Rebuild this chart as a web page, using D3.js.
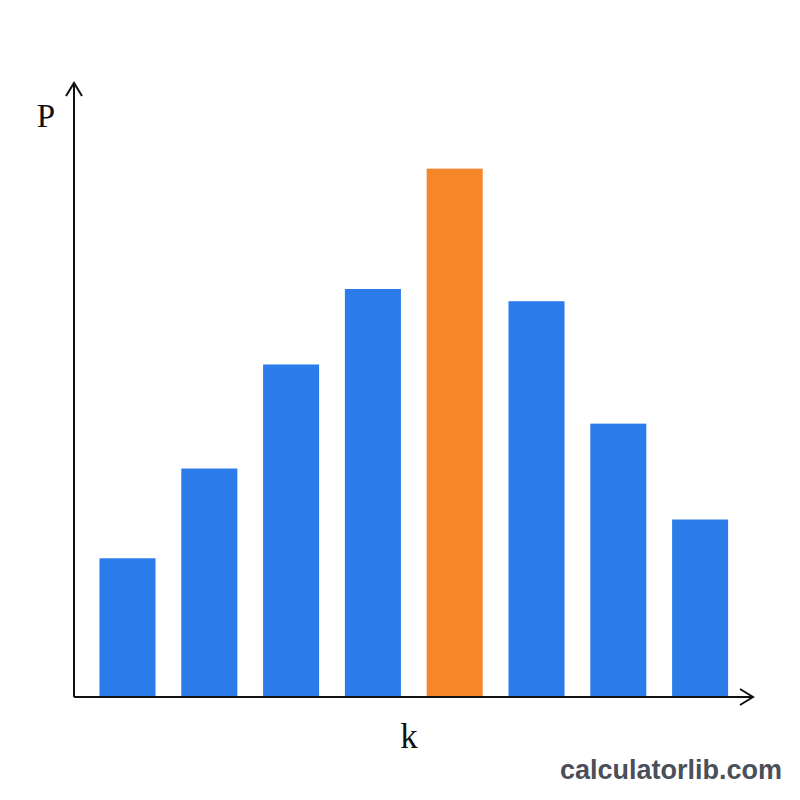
<!DOCTYPE html>
<html><head><meta charset="utf-8">
<script src="https://cdn.jsdelivr.net/npm/d3@7"></script>
<style>body{margin:0;background:#fff}</style>
</head><body>
<script>
const categories = ["1","2","3","4","5","6","7","8"];
const values = [0.068, 0.112, 0.163, 0.200, 0.259, 0.194, 0.134, 0.087];
const highlight = ["5"];
const xLabel = "k", yLabel = "P", watermark = "calculatorlib.com";

const W = 800, H = 800;
const svg = d3.select("body").append("svg").attr("width", W).attr("height", H);
svg.append("rect").attr("width", W).attr("height", H).attr("fill", "#fff");

const x = d3.scaleBand().domain(categories).range([86.6, 741]).paddingInner(0.315).paddingOuter(0.1575);
const y = d3.scaleLinear().domain([0, 0.3]).range([697, 85]);

svg.selectAll("rect.bar").data(categories).enter().append("rect")
  .attr("class","bar")
  .attr("x", d => x(d)).attr("width", x.bandwidth())
  .attr("y", (d,i) => y(values[i])).attr("height", (d,i) => y(0) - y(values[i]))
  .attr("fill", d => highlight.includes(d) ? "#f5862a" : "#2b7bea");

const ax = svg.append("g").attr("stroke", "#111").attr("stroke-width", 2).attr("fill", "none");
ax.append("line").attr("x1", 74).attr("y1", 697).attr("x2", 74).attr("y2", 83);
ax.append("line").attr("x1", 74).attr("y1", 697).attr("x2", 752).attr("y2", 697);
ax.append("path").attr("d", "M66,96 L74,83 L82,96").attr("stroke-linejoin","miter");
ax.append("path").attr("d", "M740,689 L753,697 L740,705");

svg.append("text").attr("x", 46).attr("y", 127).attr("text-anchor","middle")
  .attr("font-family","Liberation Serif, DejaVu Serif, serif").attr("font-size", 33).attr("fill","#111").text(yLabel);
svg.append("text").attr("x", 409).attr("y", 748).attr("text-anchor","middle")
  .attr("font-family","Liberation Serif, DejaVu Serif, serif").attr("font-size", 35).attr("fill","#111").text(xLabel);
svg.append("text").attr("x", 782).attr("y", 779).attr("text-anchor","end")
  .attr("font-family","Liberation Sans, Arial, sans-serif").attr("font-weight","bold")
  .attr("font-size", 27).attr("fill","#4a4f5a").text(watermark);
</script>
</body></html>
